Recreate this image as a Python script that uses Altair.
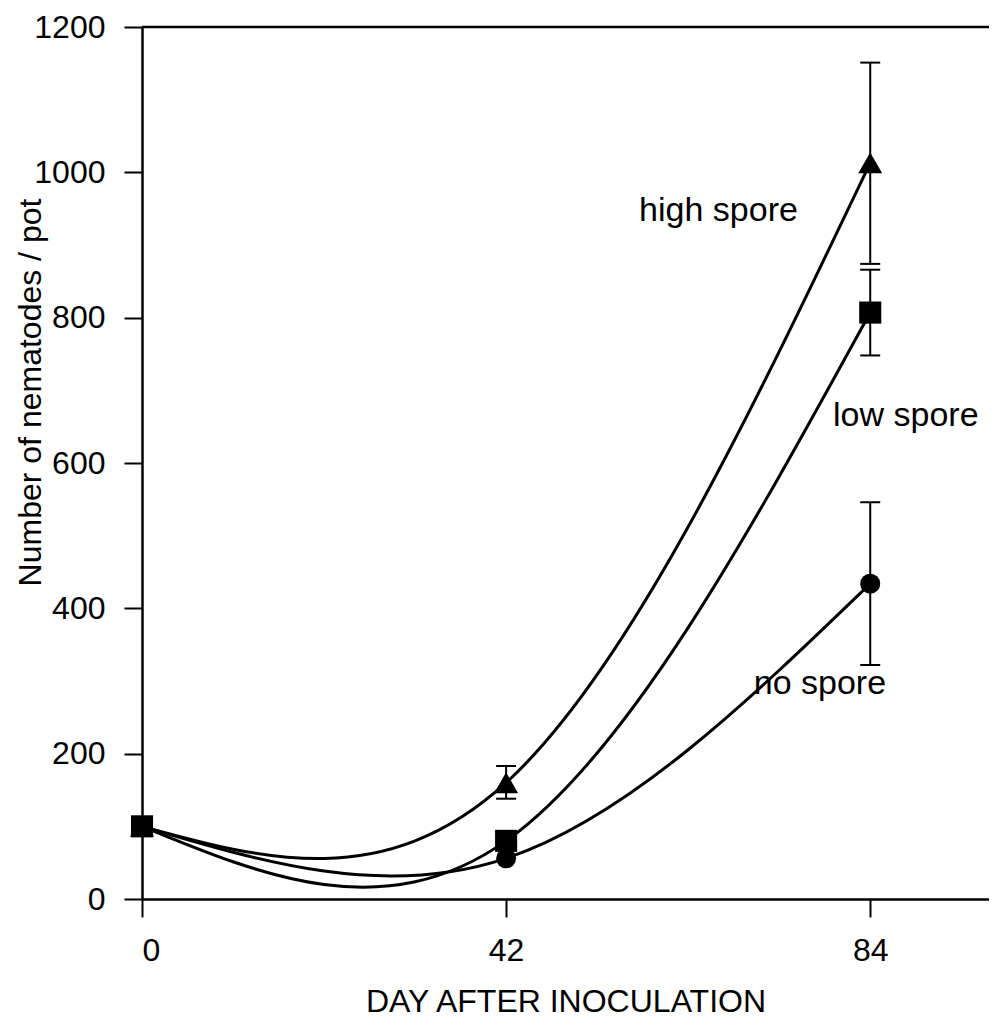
import altair as alt
import pandas as pd

# ---- data ----
series = ["high spore", "low spore", "no spore"]
days = [0, 42, 84]
high_vals = [100, 160, 1013]
low_vals = [100, 80, 807]
no_vals = [100, 56, 434]

err_series = ["high spore", "high spore", "low spore", "no spore"]
err_days = [42, 84, 84, 84]
err_lo = [138, 874, 748, 322]
err_hi = [183, 1151, 866, 546]

label_text = ["high spore", "low spore", "no spore"]
label_day = [66.5, 88.1, 78.2]
label_val = [947, 665, 296]

x_ticks = [0, 42, 84]
y_ticks = [0, 200, 400, 600, 800, 1000, 1200]

rows = []
for s, vals in zip(series, [high_vals, low_vals, no_vals]):
    for d, v in zip(days, vals):
        rows.append({"series": s, "day": d, "value": v})
df = pd.DataFrame(rows)

err_df = pd.DataFrame({"series": err_series, "day": err_days, "lo": err_lo, "hi": err_hi})
lab_df = pd.DataFrame({"text": label_text, "day": label_day, "value": label_val})

FONT = "Liberation Sans"
W, H = 847, 872

xscale = alt.Scale(domain=[0, 97.7], nice=False, zero=False)
yscale = alt.Scale(domain=[0, 1200], nice=False)

x_enc = alt.X("day:Q", scale=xscale,
              axis=alt.Axis(values=x_ticks, format="d", title="DAY AFTER INOCULATION", grid=False,
                            tickSize=18, tickWidth=2, tickColor="black",
                            domainColor="black", domainWidth=2.5,
                            labelFont=FONT, labelFontSize=32, labelColor="black", labelPadding=18,
                            titleFont=FONT, titleFontSize=32, titleFontWeight="normal",
                            titleColor="black", titlePadding=20))
y_enc = alt.Y("value:Q", scale=yscale,
              axis=alt.Axis(values=y_ticks, format="d", title="Number of nematodes / pot", grid=False,
                            tickSize=18, tickWidth=2, tickColor="black",
                            domainColor="black", domainWidth=2.5,
                            labelFont=FONT, labelFontSize=32, labelColor="black", labelPadding=19,
                            titleFont=FONT, titleFontSize=32, titleFontWeight="normal",
                            titleColor="black", titleX=-95, titleY=365, titleAlign="center"))

base = alt.Chart(df)

lines = base.mark_line(interpolate="natural", color="black", strokeWidth=3).encode(
    x=x_enc, y=y_enc, detail="series:N")

points = base.mark_point(filled=True, opacity=1, color="black").encode(
    x="day:Q", y="value:Q",
    shape=alt.Shape("series:N", scale=alt.Scale(domain=series,
                                                range=["triangle-up", "square", "circle"]),
                    legend=None),
    size=alt.Size("series:N", scale=alt.Scale(domain=series, range=[576, 400, 529]),
                  legend=None))

err = alt.Chart(err_df)
err_rule = err.mark_rule(color="black", strokeWidth=2).encode(
    x="day:Q", y="lo:Q", y2="hi:Q")
cap_lo = err.mark_rule(color="black", strokeWidth=2, xOffset=-10, x2Offset=10).encode(
    x="day:Q", x2="day:Q", y="lo:Q")
cap_hi = err.mark_rule(color="black", strokeWidth=2, xOffset=-10, x2Offset=10).encode(
    x="day:Q", x2="day:Q", y="hi:Q")

top_frame = alt.Chart(pd.DataFrame({"v": [1200]})).mark_rule(
    color="black", strokeWidth=2.5).encode(y=alt.Y("v:Q", scale=yscale))

labels = alt.Chart(lab_df).mark_text(font=FONT, fontSize=34, color="black").encode(
    x="day:Q", y="value:Q", text="text:N")

chart = alt.layer(top_frame, err_rule, cap_lo, cap_hi, lines, points, labels).properties(
    width=W, height=H,
    autosize=alt.AutoSizeParams(type="none"),
    padding={"left": 134, "top": 19, "right": 0, "bottom": 125},
).configure_view(stroke=None).configure(background="white")

chart.save("out.html", embed_options={"renderer": "svg", "actions": False})
